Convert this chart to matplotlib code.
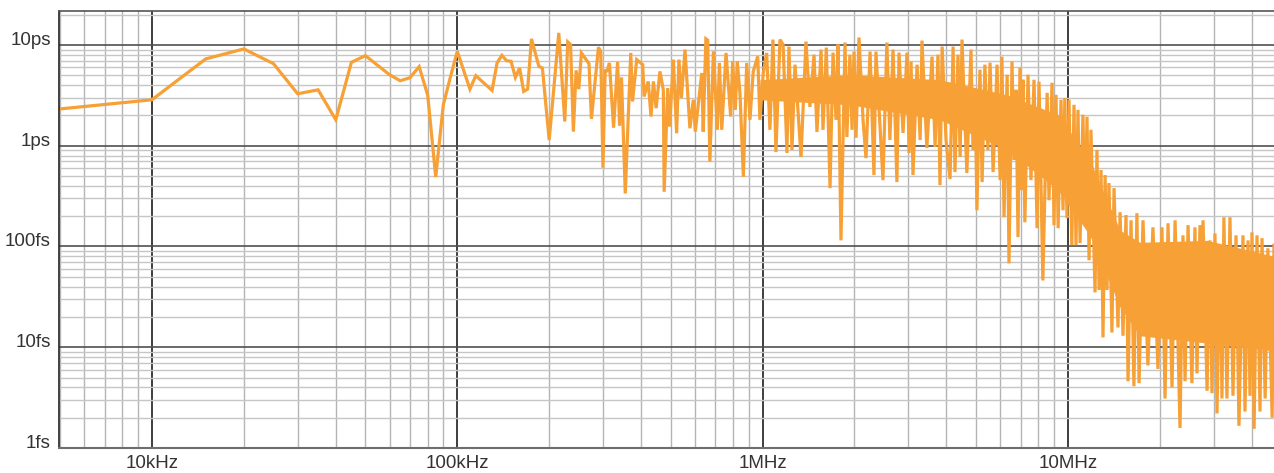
# %%
# Jitter spectrum, log-log, orange trace on a dense grid

import matplotlib
matplotlib.use('Agg')
import matplotlib.pyplot as plt
from matplotlib.ticker import LogLocator, NullFormatter

plt.rcParams['font.family'] = ['Liberation Sans', 'DejaVu Sans']

# %%
# Data (frequency in kHz, jitter in fs)

low_freq_khz = [5, 10, 15, 20, 25, 30, 35, 40, 45, 50,
                60, 65, 70, 75, 80, 85, 90, 95, 100,
                110, 115, 130, 135, 140, 145, 150, 155, 160, 165, 170, 175,
                185, 190, 200, 215, 225, 230, 235, 240, 245, 250, 255,
                270, 275, 290, 295, 300, 305, 310, 315, 325,
                335, 340, 345, 355, 370, 375]
low_jitter_fs = [2320, 2860, 7280, 9140, 6530, 3280, 3590, 1810, 6730, 7840,
                 5070, 4420, 4730, 6100, 3180, 489, 2550, 4840, 8650,
                 3650, 4960, 3540, 6640, 7890, 6990, 6880, 4770, 5910, 3460, 3650, 11500,
                 6140, 5910, 1140, 13190, 1740, 10740, 10090, 1380, 5600, 3650, 8340,
                 6530, 1850, 9480, 8650, 605, 5560, 5560, 6640, 1510,
                 6790, 1580, 4770, 336, 8340, 2750]

mid_freq_khz = [387, 405, 409, 422, 431, 439, 448, 461, 473, 476,
                489, 496, 510, 523, 532, 542, 557, 578, 593, 602,
                632, 639, 652, 661, 672, 690, 711, 722, 735, 759,
                786, 798, 814, 826, 843, 865, 887, 909, 932, 964,
                980, 1005, 1031, 1057]
mid_jitter_fs = [7160, 6380, 3080, 4350, 1950, 4350, 2360, 5470, 3590, 349,
                 3740, 1550, 7160, 1330, 7160, 2970, 9000, 1490, 2860, 1380,
                 5270, 1380, 11500, 11140, 695, 8650, 1440, 6640, 1440, 8340,
                 1950, 6880, 2270, 6880, 3330, 492, 6640, 1810, 5470, 7710,
                 1810, 5270, 8340, 1440]

high_freq_khz = [1081, 1106, 1140, 1167, 1202, 1220, 1248, 1277, 1336, 1387,
                 1429, 1474, 1507, 1554, 1577, 1617, 1663, 1701, 1740, 1766,
                 1806, 1862, 1888, 1932, 1963, 1993, 2023, 2069, 2133, 2181,
                 2249, 2316, 2351, 2427, 2479, 2553, 2612, 2674, 2754, 2798,
                 2884, 2972, 3018, 3064, 3108, 3206, 3281, 3327, 3452, 3589,
                 3673, 3753, 3811, 3873, 3988, 4111, 4207, 4266, 4365, 4436,
                 4499, 4667, 4814, 4888, 4966, 5035, 5152, 5236, 5346, 5470,
                 5559, 5689, 5861, 5998, 6081, 6177, 6324, 6412, 6561, 6660,
                 6761, 6864, 6966, 7079, 7128, 7228, 7402, 7571, 7745, 7925,
                 8042, 8279, 8551, 8671, 8872, 9004, 9142, 9290, 9493, 9638,
                 9772, 9931, 10080, 10300, 10470, 10630, 10790, 10960, 11200, 11380,
                 11550, 11730, 11900, 12270, 12450, 12650, 12840, 13030, 13240, 13430,
                 13630, 13940, 14160, 14590, 14820, 15150, 15500, 15740, 16100, 16450,
                 16830, 17100, 17620, 18280, 18990, 19720, 20330, 20800, 21280, 21930,
                 22440, 23290, 23820, 24190, 24750, 25480, 26070, 26470, 27080, 27290,
                 27710, 28560, 29180, 29640, 30320, 30780, 31480, 31960, 32430, 33180,
                 33950, 34730, 35530, 36330, 37450, 38020, 38900, 39480, 40080, 40720,
                 41630, 42580, 43230, 44260, 45190, 46660, 47320]
high_jitter_fs = [11320, 867, 11320, 10090, 847, 9640, 908, 6380, 773, 10810,
                  2430, 8020, 1370, 9000, 1440, 9420, 380, 8400, 1810, 10090,
                  115, 10570, 1220, 8020, 1440, 8590, 1200, 11860, 1810, 755,
                  8590, 512, 8590, 1440, 456, 10570, 1140, 9000, 436, 8400,
                  1340, 8400, 847, 6840, 512, 6380, 1140, 11060, 950, 7660,
                  973, 8020, 407, 9640, 1140, 467, 9640, 548, 8020, 773,
                  11320, 536, 9000, 908, 3590, 229, 5690, 436, 6380, 908,
                  6680, 548, 6380, 456, 7660, 195, 5070, 68, 6840, 722,
                  3590, 124, 5960, 363, 4520, 174, 5070, 456, 4520, 152,
                  4320, 46, 3350, 288, 4220, 163, 3200, 152, 2860, 229,
                  2990, 191, 2860, 103, 2550, 103, 2270, 108, 2030, 163,
                  1940, 73, 1440, 35, 908, 37, 574, 12.5, 512, 37,
                  426, 14.0, 380, 15.7, 219, 13.0, 205, 4.6, 182, 4.1,
                  214, 4.4, 182, 6.6, 155, 6.1, 155, 3.1, 170, 4.0,
                  182, 1.58, 129, 4.6, 163, 4.4, 155, 5.5, 163, 11.6,
                  182, 3.7, 115, 3.5, 135, 2.2, 103, 3.1, 195, 3.1,
                  195, 3.3, 129, 1.66, 129, 2.3, 115, 3.3, 138, 1.55,
                  129, 2.3, 121, 3.1, 96, 2.0, 103]

# solid core of the dense noise band above ~1MHz (where the trace fills in)
core_freq_khz = [980, 1932, 3811, 6324, 9290, 11800, 14820, 17220, 28560, 47320]
core_top_fs = [4520, 5070, 4520, 3200, 2030, 722, 145, 110, 115, 80]
core_bottom_fs = [2860, 2550, 1810, 908, 363, 129, 25, 13, 11, 9.2]

x_ticks = [10, 100, 1000, 10000]
x_labels = ['10kHz', '100kHz', '1MHz', '10MHz']
y_ticks = [1, 10, 100, 1000, 10000]
y_labels = ['1fs', '10fs', '100fs', '1ps', '10ps']

freq = low_freq_khz + mid_freq_khz + high_freq_khz
jitter = low_jitter_fs + mid_jitter_fs + high_jitter_fs

# %%
# Plot

orange = '#F7A035'
fig = plt.figure(figsize=(12.74, 4.73), dpi=100)
ax = fig.add_axes([59 / 1274, 1 - 448 / 473, 1 - 59 / 1274, (448 - 10.7) / 473])

ax.fill_between(core_freq_khz, core_bottom_fs, core_top_fs, color=orange, lw=0)
ax.plot(freq, jitter, color=orange, lw=2.3, solid_joinstyle='miter')

ax.set_xscale('log')
ax.set_yscale('log')
ax.set_xlim(4.96, 47320)
ax.set_ylim(1, 21900)

ax.set_xticks(x_ticks)
ax.set_xticklabels(x_labels)
ax.set_yticks(y_ticks)
ax.set_yticklabels(y_labels)
ax.xaxis.set_minor_locator(LogLocator(base=10, subs=range(2, 10), numticks=20))
ax.yaxis.set_minor_locator(LogLocator(base=10, subs=range(2, 10), numticks=20))
ax.xaxis.set_minor_formatter(NullFormatter())
ax.yaxis.set_minor_formatter(NullFormatter())
ax.tick_params(which='both', length=0, labelsize=13.5, labelcolor='#333333')
ax.tick_params(axis='x', pad=5)
ax.tick_params(axis='y', pad=6)
for lbl in ax.get_yticklabels():
    lbl.set_verticalalignment('baseline')

ax.set_axisbelow(True)
ax.xaxis.grid(True, which='major', color='#1e1e1e', lw=1.2)
ax.xaxis.grid(True, which='minor', color='#b4b4b4', lw=1.0)
ax.yaxis.grid(True, which='major', color='#505050', lw=1.2)
ax.yaxis.grid(True, which='minor', color='#c6c6c6', lw=1.0)

ax.spines['right'].set_visible(False)
ax.spines['left'].set_color('#222222')
ax.spines['left'].set_linewidth(1.2)
ax.spines['top'].set_color('#555555')
ax.spines['top'].set_linewidth(1.2)
ax.spines['bottom'].set_color('#6e6e6e')
ax.spines['bottom'].set_linewidth(1.5)

fig.savefig('out.png', dpi=100)
